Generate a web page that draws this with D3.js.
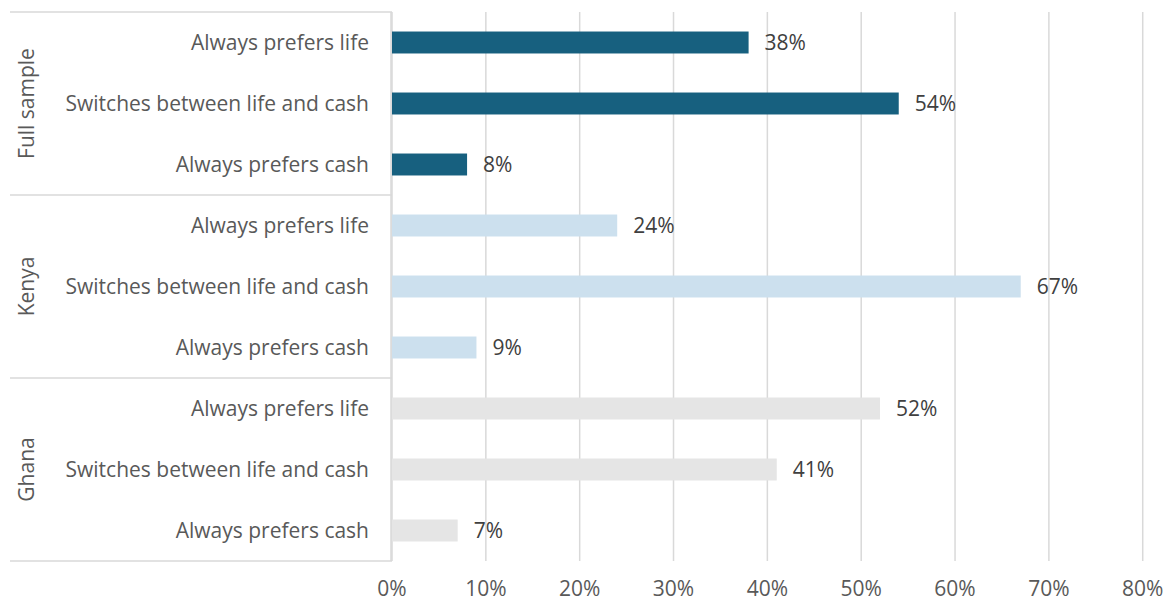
<!DOCTYPE html>
<html>
<head>
<meta charset="utf-8">
<script src="https://cdn.jsdelivr.net/npm/d3@7"></script>
<style>
    body { margin: 0; background: #fff; }
    text { font-family: "Open Sans", sans-serif; fill: #595959; }
</style>
</head>
<body>
<div id="chart"></div>
<script>
// data
let groups = ["Full sample", "Kenya", "Ghana"];
let categories = ["Always prefers life", "Switches between life and cash", "Always prefers cash"];
let fullSample = [0.38, 0.54, 0.08];
let kenya = [0.24, 0.67, 0.09];
let ghana = [0.52, 0.41, 0.07];
let groupColors = ["#17607f", "#cce0ee", "#e5e5e5"];
let xTicks = [0, 0.1, 0.2, 0.3, 0.4, 0.5, 0.6, 0.7, 0.8];

let seriesValues = [fullSample, kenya, ghana];

// flatten into rows
let rows = [];
groups.forEach((g, gi) => {
    categories.forEach((c, ci) => {
        rows.push({group: g, gi: gi, cat: c, key: g + "|" + c, value: seriesValues[gi][ci]});
    });
});

let margin = {top: 12, right: 28, bottom: 41, left: 392};
let width = 1170 - margin.left - margin.right;
let height = 602 - margin.top - margin.bottom;

let svg = d3.select("#chart").append("svg")
    .attr("width", 1170)
    .attr("height", 602)
    .append("g")
    .attr("transform", `translate(${margin.left},${margin.top})`);

let x = d3.scaleLinear()
    .domain([0, 0.8])
    .range([0, 0.8 * 938.4]);

let y = d3.scaleBand()
    .domain(rows.map(d => d.key))
    .range([0, height])
    .paddingInner(0.64)
    .paddingOuter(0.32);

let step = y.step();

// vertical gridlines
svg.append("g")
    .selectAll("line")
    .data(xTicks)
    .enter()
    .append("line")
    .attr("x1", d => x(d))
    .attr("x2", d => x(d))
    .attr("y1", 0)
    .attr("y2", height)
    .attr("stroke", "#d9d9d9")
    .attr("stroke-width", 1.5);

// x tick labels
svg.append("g")
    .selectAll("text")
    .data(xTicks)
    .enter()
    .append("text")
    .attr("x", d => x(d))
    .attr("y", height + 35)
    .attr("text-anchor", "middle")
    .style("font-size", "21px")
    .text(d => d3.format(".0%")(d));

// group separators on the left (category axis box)
let groupBounds = groups.map((g, i) => i * 3 * step).concat([height]);
svg.append("g")
    .selectAll("line")
    .data(groupBounds)
    .enter()
    .append("line")
    .attr("x1", -382)
    .attr("x2", 0)
    .attr("y1", d => d)
    .attr("y2", d => d)
    .attr("stroke", "#d9d9d9")
    .attr("stroke-width", 1.5);

svg.append("line")
    .attr("x1", -1)
    .attr("x2", -1)
    .attr("y1", 0)
    .attr("y2", height)
    .attr("stroke", "#d9d9d9")
    .attr("stroke-width", 1.5);

// bars
svg.selectAll(".bar")
    .data(rows)
    .enter()
    .append("rect")
    .attr("class", "bar")
    .attr("x", 0)
    .attr("y", d => y(d.key))
    .attr("width", d => x(d.value))
    .attr("height", y.bandwidth())
    .attr("fill", d => groupColors[d.gi]);

// value labels
svg.selectAll(".val")
    .data(rows)
    .enter()
    .append("text")
    .attr("class", "val")
    .attr("x", d => x(d.value) + 16)
    .attr("y", d => y(d.key) + y.bandwidth() / 2)
    .attr("dy", "0.35em")
    .style("font-size", "21px")
    .style("fill", "#404040")
    .text(d => d3.format(".0%")(d.value));

// category labels
svg.selectAll(".cat")
    .data(rows)
    .enter()
    .append("text")
    .attr("class", "cat")
    .attr("x", -23)
    .attr("y", d => y(d.key) + y.bandwidth() / 2)
    .attr("dy", "0.35em")
    .attr("text-anchor", "end")
    .style("font-size", "21px")
    .text(d => d.cat);

// group labels, rotated
svg.selectAll(".grp")
    .data(groups)
    .enter()
    .append("text")
    .attr("class", "grp")
    .attr("transform", (d, i) => `translate(${-365},${(i * 3 + 1.5) * step}) rotate(-90)`)
    .attr("text-anchor", "middle")
    .attr("dy", "0.35em")
    .style("font-size", "21px")
    .text(d => d);
</script>
</body>
</html>
